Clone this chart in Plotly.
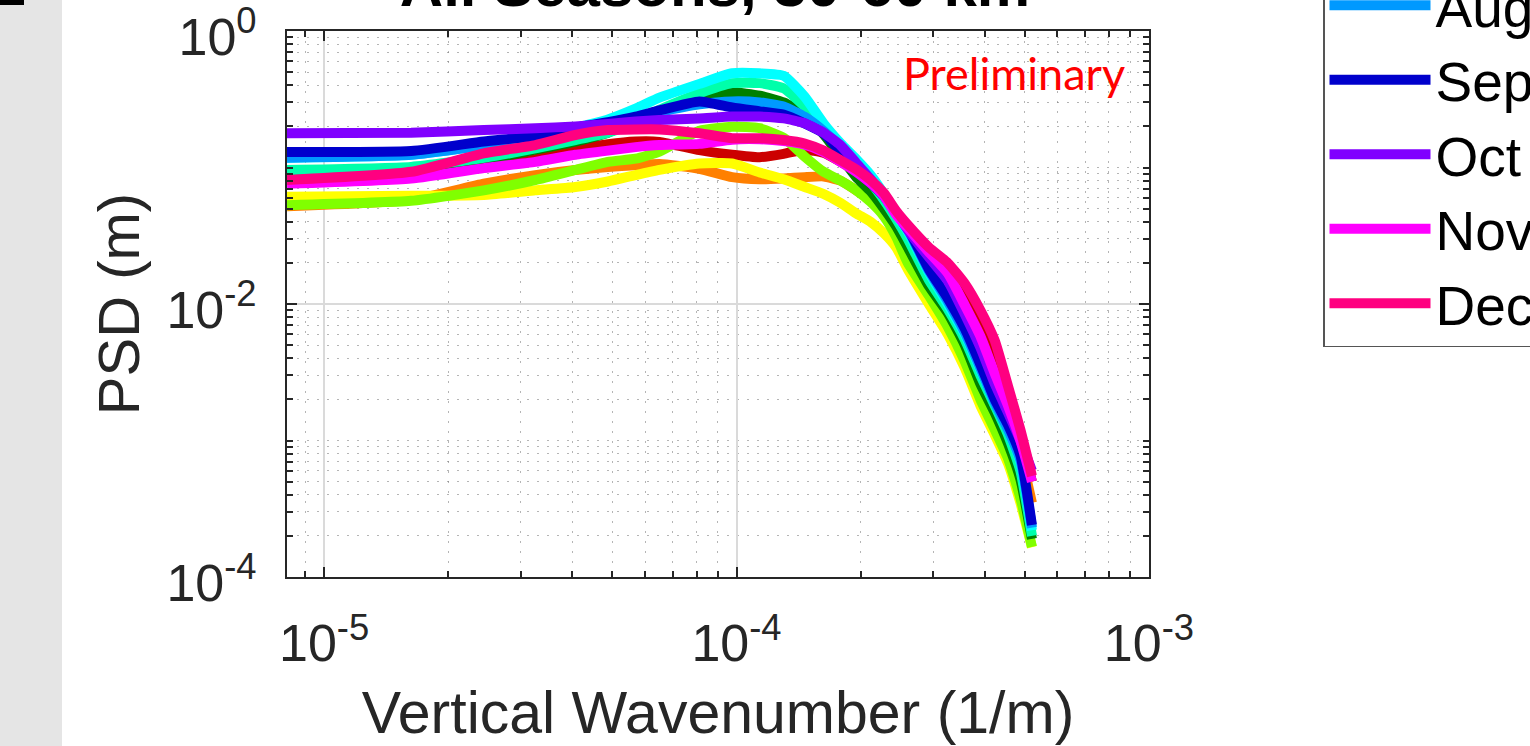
import math
import plotly.graph_objects as go

# ---------------- data ----------------
wavenumber = [8.13e-6, 1.626e-5, 2.439e-5, 3.252e-5, 4.065e-5, 4.878e-5, 5.691e-5,
              6.504e-5, 8.13e-5, 9.756e-5, 1.1382e-4, 1.3008e-4, 1.4634e-4, 1.626e-4,
              1.7886e-4, 1.9512e-4, 2.1138e-4, 2.2764e-4, 2.439e-4, 2.6016e-4,
              2.9268e-4, 3.252e-4, 3.5772e-4, 3.9024e-4, 4.2276e-4, 4.5528e-4,
              4.878e-4, 5.2032e-4]

months = ["Jan", "Feb", "Mar", "Apr", "May", "Jun",
          "Jul", "Aug", "Sep", "Oct", "Nov", "Dec"]

colors = ["#CC0000", "#FF8000", "#FFFF00", "#80FF00", "#008000", "#00FFAA",
          "#00FFFF", "#0099FF", "#0000CC", "#8000FF", "#FF00FF", "#FF0080"]

psd_jan = [0.083, 0.090, 0.100, 0.115, 0.135, 0.148, 0.155, 0.154, 0.134, 0.124, 0.119, 0.126, 0.135, 0.128,
           0.110, 0.094, 0.078, 0.062, 0.046, 0.036, 0.024, 0.018, 0.012, 0.0075, 0.0045, 0.0022, 0.0011, 0.00050]
psd_feb = [0.052, 0.058, 0.076, 0.088, 0.096, 0.101, 0.104, 0.106, 0.098, 0.085, 0.082, 0.083, 0.085, 0.086,
           0.080, 0.068, 0.058, 0.047, 0.037, 0.028, 0.015, 0.0092, 0.0058, 0.0036, 0.0022, 0.0014, 0.0008, 0.00035]
psd_mar = [0.061, 0.062, 0.063, 0.068, 0.072, 0.079, 0.088, 0.096, 0.107, 0.107, 0.092, 0.082, 0.072, 0.064,
           0.055, 0.046, 0.040, 0.033, 0.026, 0.018, 0.0100, 0.0060, 0.0034, 0.0018, 0.0011, 0.00068, 0.00035, 0.000165]
psd_apr = [0.053, 0.057, 0.068, 0.081, 0.096, 0.110, 0.116, 0.131, 0.186, 0.199, 0.194, 0.165, 0.120, 0.093,
           0.080, 0.068, 0.056, 0.044, 0.031, 0.020, 0.0115, 0.0068, 0.0038, 0.0020, 0.0012, 0.00074, 0.00038, 0.000166]
psd_may = [0.090, 0.096, 0.113, 0.135, 0.155, 0.180, 0.220, 0.260, 0.330, 0.356, 0.336, 0.300, 0.245, 0.175,
           0.120, 0.085, 0.067, 0.050, 0.037, 0.026, 0.0135, 0.0086, 0.0050, 0.0026, 0.0016, 0.00095, 0.00052, 0.00019]
psd_jun = [0.096, 0.101, 0.118, 0.138, 0.159, 0.180, 0.215, 0.265, 0.350, 0.415, 0.415, 0.380, 0.280, 0.190,
           0.140, 0.105, 0.078, 0.058, 0.042, 0.030, 0.0150, 0.0092, 0.0055, 0.0030, 0.0018, 0.0011, 0.0006, 0.00020]
psd_jul = [0.118, 0.124, 0.145, 0.165, 0.195, 0.225, 0.270, 0.325, 0.410, 0.490, 0.490, 0.470, 0.330, 0.210,
           0.150, 0.115, 0.088, 0.064, 0.045, 0.034, 0.017, 0.0100, 0.0060, 0.0033, 0.0019, 0.0012, 0.0007, 0.00022]
psd_aug = [0.118, 0.124, 0.145, 0.162, 0.190, 0.210, 0.232, 0.255, 0.290, 0.305, 0.300, 0.280, 0.235, 0.185,
           0.140, 0.105, 0.080, 0.062, 0.046, 0.035, 0.0175, 0.0105, 0.0062, 0.0034, 0.0019, 0.0012, 0.00072, 0.00023]
psd_sep = [0.130, 0.132, 0.155, 0.170, 0.196, 0.215, 0.236, 0.262, 0.305, 0.275, 0.258, 0.244, 0.210, 0.178,
           0.130, 0.095, 0.077, 0.062, 0.047, 0.036, 0.018, 0.0110, 0.0066, 0.0036, 0.0020, 0.0013, 0.00078, 0.00024]
psd_oct = [0.178, 0.180, 0.188, 0.194, 0.200, 0.208, 0.217, 0.223, 0.229, 0.236, 0.236, 0.229, 0.211, 0.180,
           0.145, 0.108, 0.082, 0.062, 0.047, 0.035, 0.022, 0.0148, 0.0084, 0.0048, 0.0026, 0.0016, 0.0010, 0.0006]
psd_nov = [0.076, 0.083, 0.099, 0.110, 0.124, 0.133, 0.141, 0.146, 0.149, 0.160, 0.161, 0.156, 0.147, 0.130,
           0.110, 0.093, 0.077, 0.062, 0.045, 0.036, 0.024, 0.0168, 0.0098, 0.0058, 0.0031, 0.0018, 0.0010, 0.0005]
psd_dec = [0.081, 0.093, 0.127, 0.146, 0.173, 0.188, 0.190, 0.190, 0.178, 0.164, 0.164, 0.159, 0.150, 0.133,
           0.113, 0.097, 0.081, 0.065, 0.048, 0.038, 0.026, 0.020, 0.0141, 0.0090, 0.0054, 0.0025, 0.0012, 0.00055]

series = [psd_jan, psd_feb, psd_mar, psd_apr, psd_may, psd_jun,
          psd_jul, psd_aug, psd_sep, psd_oct, psd_nov, psd_dec]

x_tick_values = [1e-5, 1e-4, 1e-3]
x_tick_labels = ["10<sup>-5</sup>", "10<sup>-4</sup>", "10<sup>-3</sup>"]
y_tick_values = [1e-4, 1e-2, 1e0]
y_tick_labels = ["10<sup>-4</sup>", "10<sup>-2</sup>", "10<sup>0</sup>"]

title_text = "<b>All Seasons, 30-60 km</b>"
x_title = "Vertical Wavenumber (1/m)"
y_title = "PSD (m)"
note_text = "Preliminary"

# ---------------- layout geometry ----------------
W, H = 1530, 746
L, R, T, B = 287, 1149, 31, 577
pw, ph = R - L, B - T

def px_to_paper_x(px):
    return (px - L) / pw

def px_to_paper_y(py):
    return 1 - (py - T) / ph

x_minor = [m * 10 ** e for e in (-6, -5, -4) for m in range(2, 10)]
y_minor = [m * 10 ** e for e in (-4, -3, -2, -1) for m in range(1, 10)
           if not (m == 1 and e in (-4, -2))]

FONT = "Liberation Sans, Arial, Helvetica, sans-serif"
AX = "#262626"

fig = go.Figure()
for name, col, vals in zip(months, colors, series):
    fig.add_trace(go.Scatter(x=wavenumber, y=vals, mode="lines", name=name,
                             line=dict(color=col, width=10, shape="spline", smoothing=0.5)))

axis_common = dict(
    type="log", showline=True, linecolor=AX, linewidth=2, mirror="ticks",
    ticks="inside", ticklen=10, tickwidth=2, tickcolor=AX,
    showgrid=True, gridcolor="#DADADA", gridwidth=1.5, zeroline=False,
    tickfont=dict(family=FONT, size=52, color=AX), automargin=False,
    ticklabeloverflow="allow",
)

fig.update_xaxes(
    range=[math.log10(wavenumber[0]), -3 + 1e-4],
    tickmode="array", tickvals=x_tick_values, ticktext=x_tick_labels,
    minor=dict(tickmode="array", tickvals=x_minor, ticks="inside", ticklen=6,
               tickwidth=1.5, tickcolor=AX, showgrid=True,
               gridcolor="rgba(120,120,120,0.55)", griddash="2px,8px", gridwidth=1),
    title=dict(text=x_title, font=dict(family=FONT, size=59, color=AX), standoff=37),
    ticklabelstandoff=20,
    **axis_common,
)
fig.update_yaxes(
    range=[-4, 1e-4],
    tickmode="array", tickvals=y_tick_values, ticktext=y_tick_labels,
    minor=dict(tickmode="array", tickvals=y_minor, ticks="inside", ticklen=6,
               tickwidth=1.5, tickcolor=AX, showgrid=True,
               gridcolor="rgba(120,120,120,0.55)", griddash="2px,8px", gridwidth=1),
    title=dict(text=y_title, font=dict(family=FONT, size=58, color=AX), standoff=8),
    ticklabelstandoff=18, ticklabelshift=6,
    **axis_common,
)

fig.update_layout(
    width=W, height=H,
    margin=dict(l=L, r=W - R, t=T, b=H - B, pad=0, autoexpand=False),
    paper_bgcolor="white", plot_bgcolor="white",
    title=dict(text=title_text, font=dict(family=FONT, size=60, color="black"),
               x=715 / W, xanchor="center", xref="container",
               y=1 - 6 / H, yanchor="bottom", yref="container"),
    showlegend=True,
    legend=dict(
        x=px_to_paper_x(1323), xanchor="left",
        y=px_to_paper_y(347), yanchor="bottom",
        font=dict(family=FONT, size=55, color="black"),
        bgcolor="white", bordercolor="#555555", borderwidth=1.5,
        itemwidth=101, tracegroupgap=0, maxheight=3000,
    ),
    shapes=[
        dict(type="rect", xref="paper", yref="paper",
             x0=px_to_paper_x(0), x1=px_to_paper_x(62),
             y0=px_to_paper_y(H), y1=px_to_paper_y(0),
             fillcolor="#E5E5E5", line=dict(width=0), layer="below"),
        dict(type="rect", xref="paper", yref="paper",
             x0=px_to_paper_x(0), x1=px_to_paper_x(24),
             y0=px_to_paper_y(5), y1=px_to_paper_y(0),
             fillcolor="black", line=dict(width=0), layer="below"),
    ],
    annotations=[
        dict(text=note_text, xref="paper", yref="paper",
             x=px_to_paper_x(1127), xanchor="right",
             y=px_to_paper_y(73), yanchor="middle", showarrow=False,
             font=dict(family="Lato, Carlito, sans-serif", size=45, color="#FF0000")),
    ],
)

fig.write_html("out.html")
